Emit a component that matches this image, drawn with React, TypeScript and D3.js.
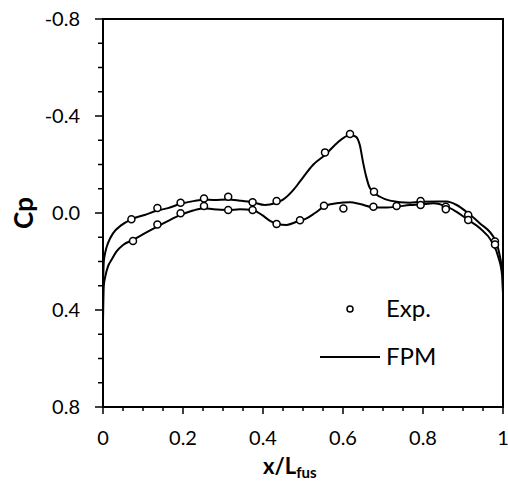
import React from "react";
import * as d3 from "d3";

// ---- Data ----
const expXA = [0.071, 0.136, 0.194, 0.2525, 0.313, 0.374, 0.434, 0.555, 0.6175, 0.6775, 0.794, 0.857, 0.913, 0.98];
const expCpA = [0.026, -0.021, -0.042, -0.06, -0.067, -0.044, -0.049, -0.25, -0.326, -0.088, -0.049, -0.026, 0.008, 0.118];
const expXB = [0.075, 0.136, 0.194, 0.2525, 0.313, 0.374, 0.434, 0.4925, 0.5525, 0.601, 0.676, 0.734, 0.794, 0.857, 0.913, 0.98];
const expCpB = [0.115, 0.047, 0.001, -0.029, -0.012, -0.012, 0.045, 0.03, -0.03, -0.019, -0.026, -0.029, -0.033, -0.015, 0.029, 0.13];

const fpmXA = [0, 0.002, 0.006, 0.0125, 0.025, 0.046, 0.071, 0.104, 0.136, 0.1625, 0.194, 0.229, 0.2525, 0.276, 0.313, 0.3425, 0.374, 0.405, 0.43, 0.451, 0.476, 0.4925, 0.526, 0.555, 0.584, 0.6175, 0.632, 0.642, 0.65, 0.658, 0.6675, 0.6925, 0.7175, 0.7675, 0.794, 0.859, 0.884, 0.913, 0.9425, 0.98, 0.9925, 0.999, 1.0];
const fpmCpA = [0.3, 0.2, 0.16, 0.124, 0.084, 0.05, 0.026, 0.008, -0.01, -0.02, -0.038, -0.05, -0.055, -0.054, -0.056, -0.051, -0.044, -0.033, -0.04, -0.056, -0.095, -0.13, -0.2, -0.239, -0.287, -0.322, -0.315, -0.28, -0.21, -0.15, -0.102, -0.067, -0.051, -0.042, -0.046, -0.047, -0.033, 0.001, 0.043, 0.111, 0.18, 0.26, 0.33];
const fpmXB = [0, 0.002, 0.006, 0.0125, 0.021, 0.033, 0.05, 0.075, 0.104, 0.136, 0.167, 0.194, 0.225, 0.2525, 0.276, 0.313, 0.3425, 0.374, 0.397, 0.4175, 0.436, 0.459, 0.484, 0.509, 0.53, 0.555, 0.584, 0.6175, 0.6425, 0.676, 0.709, 0.734, 0.7675, 0.794, 0.826, 0.859, 0.884, 0.913, 0.9425, 0.972, 0.988, 0.998, 1.0];
const fpmCpB = [0.45, 0.3, 0.26, 0.22, 0.194, 0.16, 0.132, 0.111, 0.084, 0.056, 0.029, 0.008, -0.01, -0.02, -0.015, -0.012, -0.015, -0.012, 0.008, 0.032, 0.045, 0.049, 0.036, 0.022, 0.0, -0.029, -0.04, -0.044, -0.037, -0.023, -0.023, -0.026, -0.033, -0.035, -0.04, -0.026, -0.005, 0.029, 0.063, 0.118, 0.18, 0.26, 0.33];

const xTickValues = [0, 0.2, 0.4, 0.6, 0.8, 1];
const xTickLabels = ["0", "0.2", "0.4", "0.6", "0.8", "1"];
const yTickValues = [-0.8, -0.4, 0, 0.4, 0.8];
const yTickLabels = ["-0.8", "-0.4", "0.0", "0.4", "0.8"];
const legendLabels = ["Exp.", "FPM"];

const W = 508, H = 482;
const L = 103, T = 19, R = 503, B = 407;
const FONT = "Lato, 'Open Sans', sans-serif";

export default function App() {
  const x = d3.scaleLinear().domain([0, 1]).range([L, R]);
  const y = d3.scaleLinear().domain([-0.8, 0.8]).range([T, B]);
  const line = d3.line<[number, number]>().x(d => x(d[0])).y(d => y(d[1])).curve(d3.curveMonotoneX);
  const lineA = line(fpmXA.map((v, i) => [v, fpmCpA[i]]));
  const lineB = line(fpmXB.map((v, i) => [v, fpmCpB[i]]));
  const xMinor = d3.range(0, 1.0001, 0.05);
  const yMinor = d3.range(-0.8, 0.8001, 0.1);

  return (
    <svg width={W} height={H} style={{ position: "absolute", left: 0, top: 0, background: "#fff" }} fontFamily={FONT}>
      {xMinor.map((v, i) => (
        <line key={"xm" + i} x1={x(v)} x2={x(v)} y1={B} y2={B + (i % 4 === 0 ? 7 : 4)} stroke="#000" strokeWidth={1.5} />
      ))}
      {yMinor.map((v, i) => (
        <line key={"ym" + i} x1={L} x2={L - (i % 4 === 0 ? 8 : 5)} y1={y(v)} y2={y(v)} stroke="#000" strokeWidth={1.5} />
      ))}
      <rect x={L} y={T} width={R - L} height={B - T} fill="none" stroke="#000" strokeWidth={2} />
      {xTickValues.map((v, i) => (
        <text key={"xl" + i} x={x(v)} y={445} textAnchor="middle" fontSize={20} fill="#000">{xTickLabels[i]}</text>
      ))}
      {yTickValues.map((v, i) => (
        <text key={"yl" + i} x={80} y={y(v) + 7} textAnchor="end" fontSize={20} fill="#000">{yTickLabels[i]}</text>
      ))}
      <text transform={`translate(33,${y(0)}) rotate(-90)`} textAnchor="middle" fontSize={26} fontWeight="bold" fill="#000">Cp</text>
      <text x={263} y={474} fontSize={22} fontWeight="bold" fill="#000">
        x/L<tspan fontSize={15} dy={4}>fus</tspan>
      </text>
      <path d={lineA || ""} fill="none" stroke="#000" strokeWidth={2} />
      <path d={lineB || ""} fill="none" stroke="#000" strokeWidth={2} />
      {expXA.map((v, i) => (
        <circle key={"a" + i} cx={x(v)} cy={y(expCpA[i])} r={3.5} fill="#fff" stroke="#000" strokeWidth={1.5} />
      ))}
      {expXB.map((v, i) => (
        <circle key={"b" + i} cx={x(v)} cy={y(expCpB[i])} r={3.5} fill="#fff" stroke="#000" strokeWidth={1.5} />
      ))}
      <circle cx={350} cy={309} r={3} fill="#fff" stroke="#000" strokeWidth={1.5} />
      <text x={386} y={317} fontSize={24} fill="#000">{legendLabels[0]}</text>
      <line x1={320} x2={380} y1={357} y2={357} stroke="#000" strokeWidth={2} />
      <text x={386} y={365} fontSize={24} fill="#000">{legendLabels[1]}</text>
    </svg>
  );
}
